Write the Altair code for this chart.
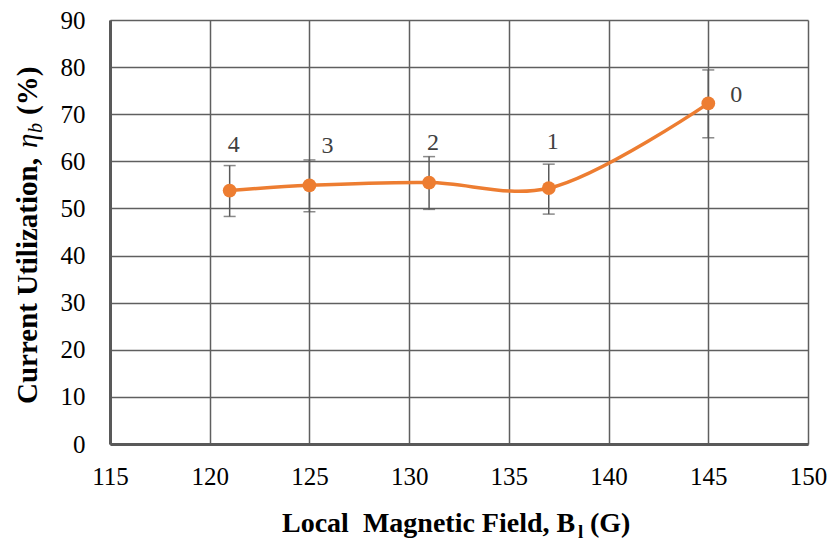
import altair as alt
import pandas as pd

# Local magnetic field (G) and current utilization (%) per position
field_G = [121, 125, 131, 137, 145]
utilization = [53.8, 54.9, 55.5, 54.3, 72.3]
util_high = [59.1, 60.3, 61.0, 59.4, 79.4]
util_low = [48.3, 49.3, 49.8, 48.8, 65.0]

# Position labels and where they sit in data units
point_labels = ["4", "3", "2", "1", "0"]
label_field = [121.2, 125.9, 131.2, 137.2, 146.4]
label_util = [63.5, 63.3, 63.9, 64.2, 74.1]

x_ticks = [115, 120, 125, 130, 135, 140, 145, 150]
y_ticks = [0, 10, 20, 30, 40, 50, 60, 70, 80, 90]

df = pd.DataFrame({
    "B": field_G, "eta": utilization, "hi": util_high, "lo": util_low,
})
lab = pd.DataFrame({"B": label_field, "eta": label_util, "t": point_labels})

W, H = 698, 424
SERIF = "Times New Roman, Liberation Serif, serif"
ORANGE = "#ED7D31"
GRID = "#5f5f5f"

xs = alt.Scale(domain=[115, 150], nice=False, zero=False)
ys = alt.Scale(domain=[0, 90], nice=False)

x_axis = alt.Axis(values=x_ticks, title=None, labelPadding=20,
                  labelFlush=False)
y_axis = alt.Axis(values=y_ticks, title=None, labelPadding=25,
                  labelFlush=False)


def xe(field):
    return alt.X(field, scale=xs, axis=x_axis)


def ye(field):
    return alt.Y(field, scale=ys, axis=y_axis)


base = alt.Chart(df)

bars = base.mark_rule(color="#595959", strokeWidth=1.5).encode(
    x=xe("B:Q"), y=ye("lo:Q"), y2="hi:Q",
)
cap_hi = base.mark_tick(color="#595959", orient="horizontal", size=12,
                        thickness=1.5).encode(x=xe("B:Q"), y=ye("hi:Q"))
cap_lo = base.mark_tick(color="#595959", orient="horizontal", size=12,
                        thickness=1.5).encode(x=xe("B:Q"), y=ye("lo:Q"))

line = base.mark_line(color=ORANGE, strokeWidth=3.5,
                      interpolate="catmull-rom").encode(
    x=xe("B:Q"), y=ye("eta:Q"))
pts = base.mark_point(filled=True, color=ORANGE, opacity=1, size=190).encode(
    x=xe("B:Q"), y=ye("eta:Q"))

labels = alt.Chart(lab).mark_text(font=SERIF, fontSize=24, color="#404040",
                                  baseline="middle", align="center").encode(
    x=xe("B:Q"), y=ye("eta:Q"), text="t:N")

one = pd.DataFrame({"k": [0]})


def piece(txt, x, y, size=28, style="normal", angle=0, weight="bold"):
    return alt.Chart(one).mark_text(
        text=txt, font=SERIF, fontSize=size, fontWeight=weight,
        fontStyle=style, align="left", baseline="alphabetic", angle=angle,
        color="#000000",
    ).encode(x=alt.value(x), y=alt.value(y))


NB = "\u00a0"

# x-axis title: Local  Magnetic Field, B_l (G)
xt0 = 172
x_title = [
    piece("Local" + NB + " Magnetic Field, B", xt0, 512),
    piece("l", xt0 + 296, 518, size=19),
    piece("(G)", xt0 + 308, 512),
]

# y-axis title: Current Utilization, eta_b (%)  (rotated, reading upward)
yb = -73
yt0 = 384
y_title = [
    piece("Current Utilization,", yb, yt0, size=29, angle=270),
    piece("\u03b7", yb, yt0 - 256, size=29, angle=270, style="italic",
          weight="normal"),
    piece("b", yb + 5, yt0 - 271, size=20, angle=270, style="italic",
          weight="normal"),
    piece("(%)", yb, yt0 - 289, size=29, angle=270),
]

chart = alt.layer(
    bars, cap_hi, cap_lo, line, pts, labels, *x_title, *y_title
).properties(
    width=W, height=H,
    autosize=alt.AutoSizeParams(type="none"),
    padding={"left": 110, "top": 20, "right": 24, "bottom": 100},
    background="#ffffff",
).configure_view(stroke=None).configure_axis(
    grid=True, ticks=False, labelFont=SERIF, labelFontSize=25,
    labelColor="#000000", gridColor=GRID, gridWidth=1.5,
    domainColor="#595959", domainWidth=3,
)

chart.save("out.html", embed_options={"renderer": "svg", "actions": False})
